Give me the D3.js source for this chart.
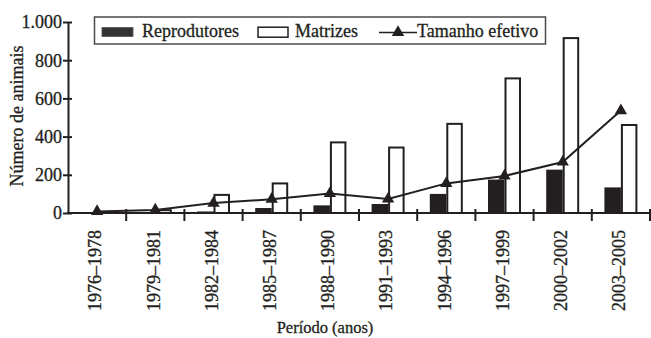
<!DOCTYPE html>
<html>
<head>
<meta charset="utf-8">
<script src="https://cdn.jsdelivr.net/npm/d3@7"></script>
<style>
  html, body { margin: 0; padding: 0; background: #fff; }
  svg { display: block; }
</style>
</head>
<body>
<svg id="chart" width="651" height="338"></svg>
<script>
const categories = ["1976–1978", "1979–1981", "1982–1984", "1985–1987", "1988–1990",
                    "1991–1993", "1994–1996", "1997–1999", "2000–2002", "2003–2005"];
const reprodutores   = [3, 4, 8, 26, 40, 47, 100, 175, 227, 134];
const matrizes       = [10, 20, 100, 160, 375, 348, 472, 710, 921, 466];
const tamanhoEfetivo = [8, 16, 52, 72, 102, 73, 155, 194, 267, 536];
const yTicks = [0, 200, 400, 600, 800, 1000];
const seriesNames = ["Reprodutores", "Matrizes", "Tamanho efetivo"];

const ink = "#231f20";
const FONT = "'Liberation Serif', 'Times New Roman', Times, serif";
const svg = d3.select("#chart");
function serif(sel, size) {
  return sel.style("font-family", FONT).style("font-size", size + "px")
    .attr("fill", ink).attr("stroke", ink).attr("stroke-width", 0.3);
}

const x = d3.scaleBand().domain(categories).range([68, 650]).padding(0);
const step = x.bandwidth();
const x1 = d3.scaleBand().domain(["r", "m"]).range([step / 2 - 16.5, step / 2 + 16.5]).padding(0);
const y = d3.scaleLinear().domain([0, 1000]).range([213, 22]);

const fmt = d3.formatLocale({ decimal: ",", thousands: ".", grouping: [3], currency: ["", ""] }).format(",");

// bars
const g = svg.append("g");
g.selectAll("rect.rep").data(reprodutores).join("rect")
  .attr("class", "rep")
  .attr("x", (d, i) => x(categories[i]) + x1("r"))
  .attr("width", x1.bandwidth())
  .attr("y", d => y(d))
  .attr("height", d => y(0) - y(d))
  .attr("fill", ink);

g.selectAll("rect.mat").data(matrizes).join("rect")
  .attr("class", "mat")
  .attr("x", (d, i) => x(categories[i]) + x1("m") + 1)
  .attr("width", x1.bandwidth() - 2)
  .attr("y", d => y(d) + 1)
  .attr("height", d => Math.max(0, y(0) - y(d) - 1))
  .attr("fill", "#fff")
  .attr("stroke", ink)
  .attr("stroke-width", 2);

// y axis
const yAxis = svg.append("g").attr("transform", "translate(68,0)")
  .call(d3.axisLeft(y).tickValues(yTicks).tickFormat(fmt).tickSizeOuter(0).tickSizeInner(5).tickPadding(2));
yAxis.attr("font-family", null).attr("font-size", null);
yAxis.select(".domain").attr("stroke", ink).attr("stroke-width", 2);
yAxis.selectAll(".tick line").attr("x1", -5).attr("x2", 4).attr("stroke", ink).attr("stroke-width", 2);
serif(yAxis.selectAll(".tick text").attr("x", -6).attr("dy", "0.33em"), 18);

// x axis
const xAxis = svg.append("g").attr("transform", "translate(0,213)");
xAxis.append("line").attr("x1", 67).attr("x2", 650).attr("y1", 0).attr("y2", 0)
  .attr("stroke", ink).attr("stroke-width", 2);
xAxis.selectAll("line.tk").data(categories).join("line")
  .attr("class", "tk")
  .attr("x1", d => x(d) + step).attr("x2", d => x(d) + step)
  .attr("y1", -4).attr("y2", 8)
  .attr("stroke", ink).attr("stroke-width", 2);
serif(xAxis.selectAll("text").data(categories).join("text")
  .attr("transform", d => `translate(${x(d) + step / 2 - 2},17) rotate(-90)`)
  .attr("text-anchor", "end")
  .attr("dy", "0.35em")
  .text(d => d), 18);

// line + triangles
const pts = tamanhoEfetivo.map((v, i) => [x(categories[i]) + step / 2, y(v)]);
svg.append("path").attr("d", d3.line()(pts))
  .attr("fill", "none").attr("stroke", ink).attr("stroke-width", 2);
svg.selectAll("path.tri").data(pts).join("path")
  .attr("class", "tri")
  .attr("transform", d => `translate(${d[0]},${d[1]})`)
  .attr("d", d3.symbol(d3.symbolTriangle, 66))
  .attr("fill", ink);

// axis titles
serif(svg.append("text")
  .attr("transform", "translate(23,116) rotate(-90)")
  .attr("text-anchor", "middle")
  .text("Número de animais"), 18);
serif(svg.append("text")
  .attr("x", 325).attr("y", 333)
  .attr("text-anchor", "middle")
  .text("Período (anos)"), 16.5);

// legend
const lg = svg.append("g");
lg.append("rect").attr("x", 94.5).attr("y", 17).attr("width", 451).attr("height", 27)
  .attr("fill", "#fff").attr("stroke", "#4a4a4a").attr("stroke-width", 1.5);
lg.append("rect").attr("x", 102).attr("y", 27.5).attr("width", 31).attr("height", 9)
  .attr("fill", "#333").attr("stroke", "#555").attr("stroke-width", 0.8);
serif(lg.append("text").attr("x", 142).attr("y", 36.5).text(seriesNames[0]), 18);
lg.append("rect").attr("x", 258).attr("y", 27.2).attr("width", 30).attr("height", 10)
  .attr("fill", "#fff").attr("stroke", ink).attr("stroke-width", 1.5);
serif(lg.append("text").attr("x", 295).attr("y", 36.5).text(seriesNames[1]), 18);
lg.append("line").attr("x1", 379).attr("x2", 417).attr("y1", 32.5).attr("y2", 32.5)
  .attr("stroke", ink).attr("stroke-width", 1.5);
lg.append("path").attr("transform", "translate(398,32.5)")
  .attr("d", d3.symbol(d3.symbolTriangle, 66)).attr("fill", ink);
serif(lg.append("text").attr("x", 417).attr("y", 36.5).text(seriesNames[2]), 18);
</script>
</body>
</html>
